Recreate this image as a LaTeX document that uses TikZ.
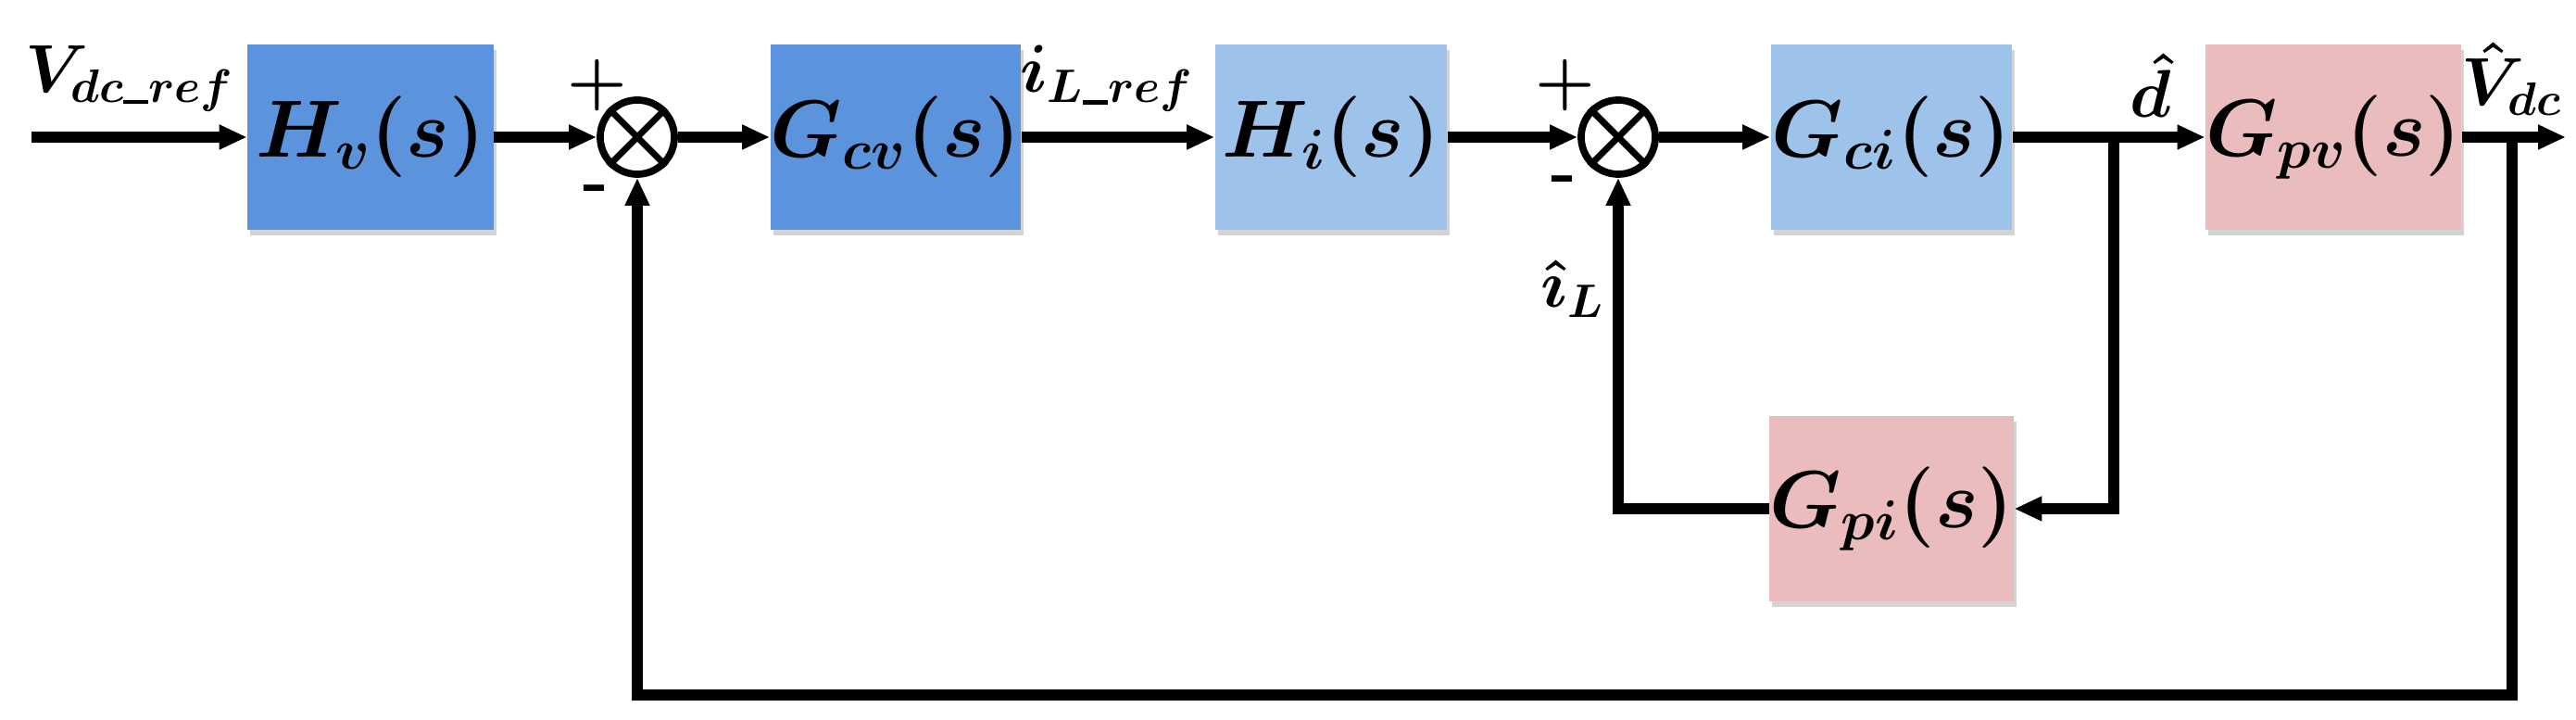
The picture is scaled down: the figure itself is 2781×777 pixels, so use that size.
\documentclass[tikz,border=0pt]{standalone}
\usepackage{bm}
\usetikzlibrary{arrows.meta,shadows}
\definecolor{dblue}{HTML}{5B94DC}
\definecolor{lblue}{HTML}{9DC3EB}
\definecolor{lpink}{HTML}{EBBCBE}
\newcommand{\usc}{\rule[-0.5pt]{0.35em}{1.2pt}}
\begin{document}
\begin{tikzpicture}[x=0.01cm,y=-0.01cm,
  blk/.style={draw=none,minimum width=2.6cm,minimum height=2cm,inner sep=0pt,font=\fontsize{27}{32}\selectfont,drop shadow={shadow xshift=0.03cm,shadow yshift=-0.06cm,opacity=0.35}},
  sum/.style={circle,draw,line width=2.2pt,minimum size=0.8cm,inner sep=0pt},
  ln/.style={line width=3.5pt},
  ar/.style={ln,-{Triangle[length=0.3cm,width=0.25cm]}},
  lbl/.style={font=\fontsize{22}{26}\selectfont,inner sep=0pt},
  sgn/.style={font=\fontsize{21}{21}\selectfont\bfseries,inner sep=0pt}]
\useasboundingbox (0,0) rectangle (2781,777);
\node[blk,fill=dblue,minimum width=2.65cm] (hv) at (400,148) {$\bm{H_v(s)}$};
\node[sum] (s1) at (688,148) {};
\draw[line width=2pt] (s1.north west)--(s1.south east) (s1.north east)--(s1.south west);
\node[blk,fill=dblue,minimum width=2.57cm] (gcv) at (967,148) {$\bm{G_{cv}(s)}$};
\node[blk,fill=lblue,minimum width=2.5cm] (hi) at (1437,148) {$\bm{H_i(s)}$};
\node[sum] (s2) at (1747,148) {};
\draw[line width=2pt] (s2.north west)--(s2.south east) (s2.north east)--(s2.south west);
\node[blk,fill=lblue] (gci) at (2042,148) {$\bm{G_{ci}(s)}$};
\node[blk,fill=lpink] (gpv) at (2519,148) {$\bm{G_{pv}(s)}$};
\node[blk,fill=lpink] (gpi) at (2042,549) {$\bm{G_{pi}(s)}$};
\coordinate (in) at (34,148);
\coordinate (out) at (2770,148);
\coordinate (br) at (2282,148);
\coordinate (vb) at (2712,148);
\draw[ar] (in) -- (hv);
\draw[ar] (hv) -- (s1);
\draw[ar] (s1) -- (gcv);
\draw[ar] (gcv) -- (hi);
\draw[ar] (hi) -- (s2);
\draw[ar] (s2) -- (gci);
\draw[ar] (gci) -- (gpv);
\draw[ar] (gpv) -- (out);
\draw[ar] (br) |- (gpi);
\draw[ar] (gpi) -| (s2);
\draw[ar] (vb) |- (688,750) -- (s1);
\node[lbl] (l1) at (140,85) {$\bm{V_{dc\usc ref}}$};
\node[lbl] (l2) at (1195,85) {$\bm{i_{L\usc ref}}$};
\node[lbl] (l3) at (2322,92) {$\bm{\hat{d}}$};
\node[lbl] (l4) at (2712,85) {$\bm{\hat{V}_{dc}}$};
\node[lbl] (l5) at (1698,312) {$\bm{\hat{\imath}_L}$};
\node[sgn] (p1) at (645,92) {+};
\node[sgn] (m1) at (643,210) {-};
\node[sgn] (p2) at (1690,92) {+};
\node[sgn] (m2) at (1688,200) {-};
\end{tikzpicture}
\end{document}
